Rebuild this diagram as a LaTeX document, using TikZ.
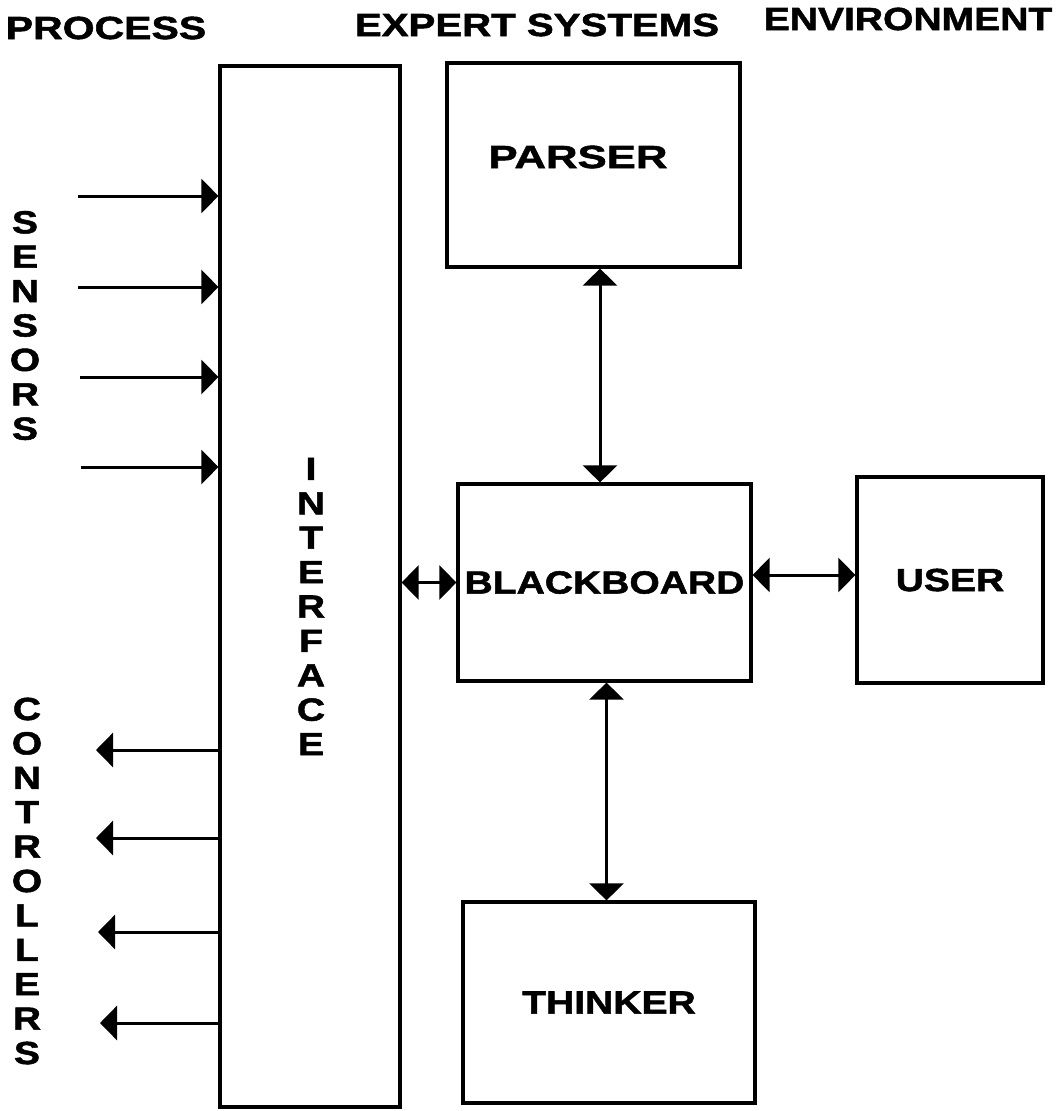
\documentclass[tikz,border=0pt]{standalone}
\usepackage{fontspec}
\setmainfont{Liberation Sans}[FakeStretch=1.22, BoldFeatures={FakeBold=1.6}]
\usetikzlibrary{arrows.meta}
\begin{document}
\begin{tikzpicture}[x=1pt,y=-1pt,
  txt/.style={font=\fontsize{32}{34.4}\selectfont\bfseries, inner sep=0pt, align=center},
  box/.style={draw, line width=3.2pt, rectangle, inner sep=0pt, txt},
  conn/.style={line width=3pt, -{Triangle[length=17pt,width=34pt]}},
  biconn/.style={line width=3pt, {Triangle[length=17pt,width=34pt]}-{Triangle[length=17pt,width=34pt]}}]
\useasboundingbox (0,0) rectangle (1064,1111);

% headings
\node[txt] (hproc) at (106,28) {\scalebox{1.05}[1]{PROCESS}};
\node[txt] (hexp) at (537,25) {\scalebox{1.03}[1]{EXPERT SYSTEMS}};
\node[txt] (henv) at (908,19) {ENVIRONMENT};

% boxes
\node[box, minimum width=180pt, minimum height=1041pt] (iface) at (310,586.5) {};
\node[box, minimum width=293pt, minimum height=204pt] (parser) at (593.5,165) {};
\node[txt] (parserlbl) at (578,157) {\scalebox{1.12}[1]{PARSER}};
\node[box, minimum width=293pt, minimum height=197pt] (bb) at (604.5,582.5) {BLACKBOARD};
\node[box, minimum width=186pt, minimum height=206pt] (user) at (950,580) {USER};
\node[box, minimum width=292pt, minimum height=201pt] (thinker) at (609,1002.5) {THINKER};

% stacked labels
\node[txt] (ifacelbl) at (311,606.5) {I\\N\\T\\E\\R\\F\\A\\C\\E};
\node[txt] (senslbl) at (25,325.5) {S\\E\\N\\S\\O\\R\\S};
\node[txt] (ctrllbl) at (27,881) {C\\O\\N\\T\\R\\O\\L\\L\\E\\R\\S};

% sensors
\coordinate (s1) at (78,196);
\coordinate (s2) at (78,287);
\coordinate (s3) at (80,377);
\coordinate (s4) at (81,467);
\foreach \s in {s1,s2,s3,s4}
  \draw[conn] (\s) -- (\s -| iface.west);

% controllers
\coordinate (c1) at (96,750);
\coordinate (c2) at (96,838);
\coordinate (c3) at (98,932);
\coordinate (c4) at (100,1023);
\foreach \c in {c1,c2,c3,c4}
  \draw[conn] (iface.west |- \c) -- (\c);

% internal connectors
\draw[biconn] ([xshift=6.5pt]parser.south) -- ([xshift=-4.5pt]bb.north);
\draw[biconn] ([xshift=2pt]bb.south) -- ([xshift=-2.5pt]thinker.north);
\draw[biconn] (iface.east |- bb.west) -- (bb.west);
\draw[biconn] ([yshift=5pt]bb.east |- user.west) -- ([yshift=5pt]user.west);
\end{tikzpicture}
\end{document}
